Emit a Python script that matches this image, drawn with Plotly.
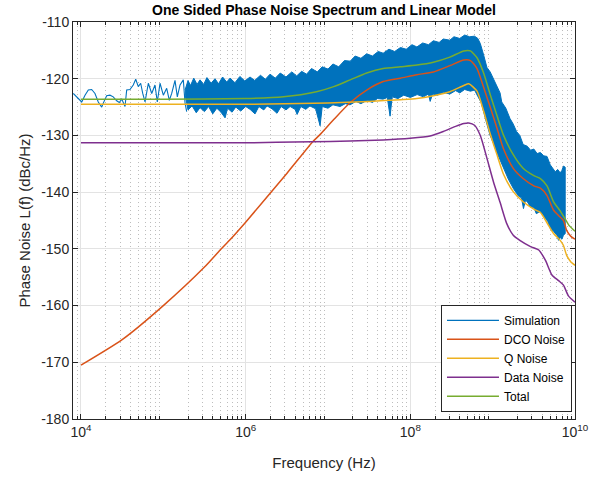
import numpy as np
import plotly.graph_objects as go

# ---------------- data (frequencies as log10(Hz), levels in dBc/Hz) ----------------
sim_line_logf = [3.906, 3.967, 4.009, 4.049, 4.089, 4.130, 4.170, 4.210, 4.252, 4.271,
                 4.312, 4.352, 4.392, 4.434, 4.465, 4.495, 4.522, 4.535, 4.555, 4.595,
                 4.635, 4.665, 4.696, 4.725, 4.750, 4.778, 4.818, 4.859, 4.899, 4.927,
                 4.960, 5.000, 5.041, 5.073, 5.102, 5.142, 5.170, 5.203, 5.243, 5.264, 5.284]
sim_line_db = [-122.6, -123.5, -124.1, -122.9, -122.0, -121.9, -122.6, -124.1, -125.0, -124.3,
               -123.0, -122.9, -123.2, -123.9, -124.2, -123.6, -124.3, -124.9, -122.0, -121.9,
               -121.1, -120.1, -121.4, -120.8, -122.6, -124.1, -120.8, -122.6, -121.1, -124.1,
               -120.8, -122.9, -121.7, -123.8, -122.6, -120.3, -123.2, -121.1, -120.2, -124.3, -125.8]

sim_upper_logf = [5.264, 5.30, 5.33, 5.37, 5.41, 5.446, 5.49, 5.53, 5.58, 5.628, 5.67, 5.72,
                  5.77, 5.81, 5.87, 5.93, 5.99, 6.053, 6.11, 6.18, 6.24, 6.296, 6.36, 6.42,
                  6.49, 6.56, 6.62, 6.68, 6.74, 6.80, 6.87, 6.93, 7.00, 7.06, 7.13, 7.20,
                  7.27, 7.33, 7.40, 7.47, 7.54, 7.61, 7.67, 7.74, 7.81, 7.88, 7.95, 8.02,
                  8.08, 8.15, 8.22, 8.28, 8.35, 8.40, 8.48, 8.53, 8.60, 8.66, 8.72, 8.78,
                  8.82, 8.85, 8.89, 8.93, 8.97, 9.01, 9.05, 9.09, 9.11, 9.16, 9.21, 9.25,
                  9.29, 9.33, 9.37, 9.42, 9.46, 9.50, 9.54, 9.58, 9.62, 9.66, 9.70, 9.73,
                  9.76, 9.79, 9.82, 9.84, 9.86, 9.881]
sim_upper_db = [-122.0, -120.3, -121.2, -119.9, -121.0, -120.2, -121.0, -119.8, -120.8, -120.0,
                -120.9, -119.7, -120.6, -119.9, -120.7, -119.6, -120.4, -119.7, -120.3, -119.4,
                -120.1, -119.2, -119.9, -119.0, -119.7, -118.8, -119.5, -118.7, -119.2, -118.2,
                -118.8, -117.9, -118.3, -117.4, -117.9, -116.8, -116.9, -116.0, -116.4, -115.6,
                -116.0, -115.2, -115.5, -114.8, -115.2, -114.5, -114.8, -114.0, -114.4, -113.7,
                -114.0, -113.3, -113.6, -113.0, -113.2, -112.6, -112.9, -112.3, -112.6, -112.5,
                -112.9, -113.8, -115.8, -118.0, -118.8, -120.0, -121.1, -122.5, -124.1, -125.2,
                -127.0, -128.0, -129.3, -130.0, -131.6, -131.9, -132.6, -132.4, -133.2, -133.0,
                -133.6, -133.7, -135.2, -135.7, -136.4, -136.0, -136.6, -136.2, -135.4, -135.6]

sim_lower_logf = [5.264, 5.30, 5.35, 5.40, 5.446, 5.50, 5.55, 5.60, 5.65, 5.70, 5.75, 5.78,
                  5.835, 5.88, 5.94, 6.00, 6.053, 6.114, 6.16, 6.22, 6.26, 6.32, 6.381, 6.43,
                  6.49, 6.54, 6.60, 6.625, 6.67, 6.73, 6.78, 6.85, 6.904, 6.93, 7.00, 7.06,
                  7.147, 7.21, 7.268, 7.34, 7.40, 7.475, 7.54, 7.60, 7.669, 7.72, 7.754, 7.78,
                  7.85, 7.92, 8.00, 8.083, 8.16, 8.22, 8.241, 8.27, 8.33, 8.40, 8.48, 8.55,
                  8.60, 8.66, 8.73, 8.78, 8.823, 8.86, 8.888, 8.93, 8.969, 9.01, 9.051, 9.09,
                  9.131, 9.19, 9.253, 9.29, 9.313, 9.35, 9.374, 9.40, 9.43, 9.456, 9.50, 9.53,
                  9.577, 9.61, 9.638, 9.67, 9.698, 9.74, 9.780, 9.800, 9.82, 9.841, 9.86, 9.881]
sim_lower_db = [-122.8, -125.5, -124.8, -126.0, -125.1, -125.8, -124.9, -126.2, -125.2, -125.9,
                -126.9, -125.2, -125.9, -125.0, -125.7, -124.9, -125.4, -126.2, -124.9, -125.5,
                -124.8, -125.3, -126.1, -124.9, -125.5, -124.9, -125.4, -126.3, -124.9, -125.4,
                -124.8, -125.3, -128.3, -124.9, -125.2, -124.6, -124.9, -124.4, -124.6, -124.0,
                -124.4, -123.8, -124.2, -123.5, -123.6, -123.3, -126.6, -123.2, -123.5, -122.9,
                -123.3, -122.8, -123.2, -122.7, -124.0, -122.7, -122.9, -122.4, -122.7, -122.1,
                -122.5, -121.9, -122.2, -122.0, -123.2, -124.2, -125.8, -128.0, -130.0, -131.4,
                -133.0, -134.5, -135.8, -137.7, -139.4, -140.2, -140.7, -141.0, -142.9, -141.4,
                -141.9, -142.6, -142.7, -143.8, -143.4, -144.0, -144.6, -145.2, -146.4, -146.9,
                -147.6, -148.5, -148.0, -148.3, -147.6, -147.3]

dco_logf = [4.0, 4.5, 5.0, 5.5, 5.69, 5.81, 6.0, 6.5, 6.815, 6.90, 7.07, 7.27, 7.47, 7.67,
            7.88, 8.08, 8.28, 8.48, 8.65, 8.73, 8.81, 8.89, 8.97, 9.05, 9.13, 9.25, 9.37,
            9.50, 9.58, 9.66, 9.74, 9.82, 9.86, 9.90, 9.95, 10.0]
dco_db = [-170.5, -166.0, -160.0, -153.2, -150.2, -148.4, -145.3, -136.7, -131.1, -129.9, -127.2,
          -124.2, -122.0, -120.5, -119.9, -119.3, -118.8, -117.7, -116.7, -116.8, -118.2, -121.5,
          -125.0, -128.6, -132.3, -135.8, -137.6, -138.9, -139.3, -140.6, -143.2, -144.4,
          -145.0, -146.8, -147.8, -148.3]

q_logf = [4.0, 6.0, 7.0, 7.5, 7.88, 8.08, 8.28, 8.48, 8.65, 8.71, 8.81, 8.89, 8.97, 9.05,
          9.13, 9.25, 9.37, 9.50, 9.58, 9.66, 9.74, 9.82, 9.86, 9.90, 9.95, 10.0]
q_db = [-124.5, -124.5, -124.3, -124.0, -123.7, -123.5, -123.0, -122.3, -121.2, -120.9, -122.2,
        -125.7, -129.7, -133.3, -136.8, -139.9, -141.7, -143.0, -143.6, -145.4, -147.3, -148.5,
        -149.4, -151.2, -152.3, -152.9]

data_logf = [4.0, 6.0, 6.8, 7.27, 7.67, 8.0, 8.24, 8.40, 8.55, 8.65, 8.71, 8.78, 8.85, 8.93,
             9.01, 9.09, 9.17, 9.25, 9.33, 9.46, 9.56, 9.64, 9.72, 9.80, 9.86, 9.92, 10.0]
data_db = [-131.3, -131.3, -131.1, -131.0, -130.8, -130.5, -130.1, -129.3, -128.4, -127.9,
           -127.8, -128.2, -130.0, -134.0, -138.2, -141.8, -145.5, -147.6, -148.5, -149.6,
           -150.2, -152.0, -154.6, -155.6, -156.4, -158.3, -159.4]

total_logf = [4.0, 5.0, 6.0, 6.46, 6.86, 7.07, 7.27, 7.47, 7.67, 7.88, 8.08, 8.28, 8.48, 8.65,
              8.73, 8.81, 8.89, 8.97, 9.05, 9.13, 9.25, 9.37, 9.50, 9.58, 9.66, 9.74, 9.82,
              9.88, 9.93, 10.0]
total_db = [-123.6, -123.6, -123.5, -123.2, -122.3, -121.4, -120.2, -119.0, -118.2, -117.9,
            -117.6, -117.1, -116.2, -115.1, -115.1, -116.3, -119.0, -122.8, -126.4, -129.9,
            -133.4, -135.8, -137.1, -137.6, -138.9, -141.7, -143.3, -144.7, -145.9, -146.9]

series_names = ["Simulation", "DCO Noise", "Q Noise", "Data Noise", "Total"]
x_tick_exponents = [4, 6, 8, 10]
y_ticks = [-180, -170, -160, -150, -140, -130, -120, -110]

# ---------------- styling ----------------
C_SIM, C_DCO, C_Q, C_DATA, C_TOT = "#0072BD", "#D95319", "#EDB120", "#7E2F8E", "#77AC30"
FONT = "Liberation Sans, Arial, Helvetica, sans-serif"
AX = "#262626"


def hz(logs):
    return 10.0 ** np.asarray(logs, dtype=float)


fig = go.Figure()

# simulation dense band (polygon: upper edge forward, lower edge back)
band_x = np.concatenate([hz(sim_upper_logf), hz(sim_lower_logf)[::-1]])
band_y = np.concatenate([np.asarray(sim_upper_db), np.asarray(sim_lower_db)[::-1]])
fig.add_trace(go.Scatter(x=band_x, y=band_y, mode="lines", fill="toself",
                         fillcolor=C_SIM, line=dict(color=C_SIM, width=1),
                         showlegend=False, hoverinfo="skip", legendgroup="sim"))
fig.add_trace(go.Scatter(x=hz(sim_line_logf), y=sim_line_db, mode="lines",
                         line=dict(color=C_SIM, width=1.1), name=series_names[0],
                         legendgroup="sim"))

for logs, vals, col, nm in [(dco_logf, dco_db, C_DCO, series_names[1]),
                            (q_logf, q_db, C_Q, series_names[2]),
                            (data_logf, data_db, C_DATA, series_names[3]),
                            (total_logf, total_db, C_TOT, series_names[4])]:
    fig.add_trace(go.Scatter(x=hz(logs), y=vals, mode="lines", name=nm,
                             line=dict(color=col, width=1.5, shape="spline", smoothing=0.6)))

minor_vals = [m * 10.0 ** d for d in range(3, 10) for m in range(2, 10)
              if 8000 <= m * 10.0 ** d <= 1e10]

fig.update_layout(
    width=589, height=477,
    margin=dict(l=73, r=14, t=22, b=58),
    paper_bgcolor="white", plot_bgcolor="white",
    font=dict(family=FONT, color=AX, size=13),
    title=dict(text="<b>One Sided Phase Noise Spectrum and Linear Model</b>",
               x=324 / 589, xanchor="center", y=1 - 10 / 477, yanchor="middle",
               yref="container", font=dict(size=14, color="black", family=FONT)),
    showlegend=True,
    legend=dict(x=0.994, xanchor="right", y=0.018, yanchor="bottom",
                bgcolor="white", bordercolor="#262626", borderwidth=1,
                font=dict(size=12, color="black", family=FONT),
                tracegroupgap=0, itemwidth=52),
)

fig.update_xaxes(
    type="log", range=[np.log10(8000), 10.0], automargin=False,
    tickvals=hz(x_tick_exponents),
    ticktext=[f"10<sup>{e}</sup>" for e in x_tick_exponents],
    tickfont=dict(size=14, color=AX),
    ticks="inside", ticklen=5, tickcolor=AX,
    showline=True, linecolor=AX, linewidth=1, mirror="allticks",
    showgrid=True, gridcolor="#E3E3E3", gridwidth=1,
    zeroline=False,
    minor=dict(tickvals=minor_vals, ticks="inside", ticklen=3, tickcolor=AX,
               showgrid=True, gridcolor="#BDBDBD", griddash="1px,3px", gridwidth=1),
    title=dict(text="Frequency (Hz)", font=dict(size=15, color=AX), standoff=18),
)
fig.update_yaxes(
    range=[-180, -110], automargin=False, tickvals=y_ticks,
    ticktext=[str(v) for v in y_ticks],
    tickfont=dict(size=14, color=AX),
    ticks="inside", ticklen=5, tickcolor=AX,
    showline=True, linecolor=AX, linewidth=1, mirror="allticks",
    showgrid=True, gridcolor="#E3E3E3", gridwidth=1, zeroline=False,
    title=dict(text="Phase Noise L(f) (dBc/Hz)", font=dict(size=15, color=AX), standoff=6),
)

fig.write_html("out.html")
